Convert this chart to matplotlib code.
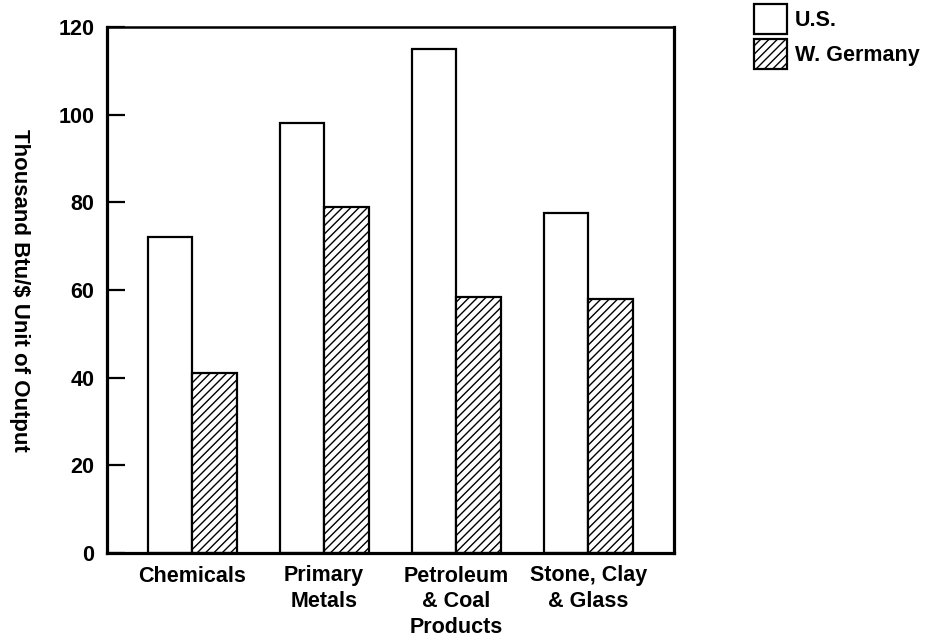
import matplotlib
matplotlib.use("Agg")
import matplotlib.pyplot as plt
import numpy as np
from matplotlib.patches import Patch

categories = ["Chemicals", "Primary\nMetals", "Petroleum\n& Coal\nProducts", "Stone, Clay\n& Glass"]
us_values = [72, 98, 115, 77.5]
germany_values = [41, 79, 58.5, 58]
series_labels = ["U.S.", "W. Germany"]
y_ticks = [0, 20, 40, 60, 80, 100, 120]

plt.rcParams['font.family'] = ['Liberation Sans', 'DejaVu Sans']
plt.rcParams['font.weight'] = 'bold'
plt.rcParams['hatch.linewidth'] = 1.0

fig = plt.figure(figsize=(9.35, 6.4), dpi=100)
ax = fig.add_axes([107/935, 1 - 553/640, (674-107)/935, (553-27)/640])

x = np.arange(len(categories))
w = 0.337
ax.bar(x - w/2, us_values, width=w, color='white', edgecolor='black', linewidth=1.6, zorder=2)
ax.bar(x + w/2, germany_values, width=w, color='white', edgecolor='black', linewidth=1.6,
       hatch='////', zorder=2)

ax.set_xlim(-0.645, 3.65)
ax.set_ylim(0, 120)
ax.set_yticks(y_ticks)
ax.set_yticklabels([str(t) for t in y_ticks], fontsize=15.5, fontweight='bold')
ax.set_xticks(x)
ax.set_xticklabels(categories, fontsize=15.5, fontweight='bold', linespacing=1.3)
ax.tick_params(axis='y', direction='in', length=13, width=1.6, pad=9)
ax.tick_params(axis='x', length=0, pad=9)

for side in ['left', 'right', 'bottom']:
    ax.spines[side].set_linewidth(2.3)
ax.spines['top'].set_linewidth(1.8)

ax.set_ylabel("Thousand Btu/$ Unit of Output", rotation=-90, fontsize=16, fontweight='bold',
              va='center', ha='center')
ax.yaxis.set_label_coords((19-107)/567, 0.5)

handles = [Patch(facecolor='white', edgecolor='black', linewidth=1.6),
           Patch(facecolor='white', edgecolor='black', linewidth=1.6, hatch='////')]
fig.legend(handles, series_labels, loc='upper left', bbox_to_anchor=(750/935, 1.0),
           frameon=False, prop={'weight': 'bold', 'size': 15.5},
           handlelength=1.5, handleheight=1.75, handletextpad=0.4, labelspacing=0.25,
           borderaxespad=0.0, borderpad=0.2)

fig.savefig("out.png", dpi=100)
